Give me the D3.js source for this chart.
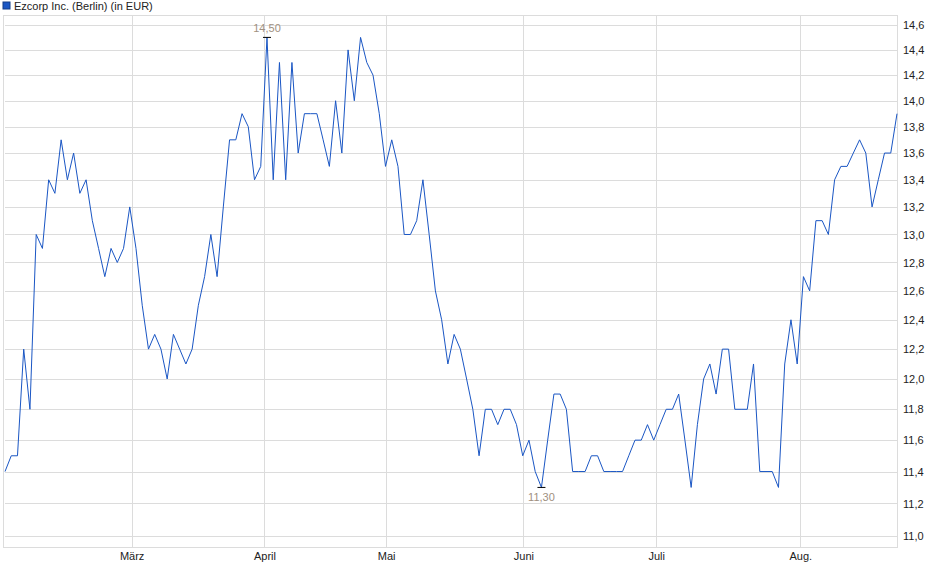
<!DOCTYPE html>
<html><head><meta charset="utf-8">
<script src="https://cdn.jsdelivr.net/npm/d3@7"></script>
<style>body{margin:0;background:#fff}text{font-family:"Liberation Sans",Arial,sans-serif}</style>
</head><body><svg id="c" width="940" height="579"></svg>
<script>
const title = 'Ezcorp Inc. (Berlin) (in EUR)'
const prices = [11.4, 11.5, 11.5, 12.2, 11.8, 13.0, 12.9, 13.4, 13.3, 13.7, 13.4, 13.6, 13.3, 13.4, 13.1, 12.9, 12.7, 12.9, 12.8, 12.9,
  13.2, 12.9, 12.5, 12.2, 12.3, 12.2, 12.0, 12.3, 12.2, 12.1, 12.2, 12.5, 12.7, 13.0, 12.7, 13.2, 13.7, 13.7, 13.9, 13.8,
  13.4, 13.5, 14.5, 13.4, 14.3, 13.4, 14.3, 13.6, 13.9, 13.9, 13.9, 13.7, 13.5, 14.0, 13.6, 14.4, 14.0, 14.5, 14.3, 14.2,
  13.9, 13.5, 13.7, 13.5, 13.0, 13.0, 13.1, 13.4, 13.0, 12.6, 12.4, 12.1, 12.3, 12.2, 12.0, 11.8, 11.5, 11.8, 11.8, 11.7,
  11.8, 11.8, 11.7, 11.5, 11.6, 11.4, 11.3, 11.6, 11.9, 11.9, 11.8, 11.4, 11.4, 11.4, 11.5, 11.5, 11.4, 11.4, 11.4, 11.4,
  11.5, 11.6, 11.6, 11.7, 11.6, 11.7, 11.8, 11.8, 11.9, 11.6, 11.3, 11.7, 12.0, 12.1, 11.9, 12.2, 12.2, 11.8, 11.8, 11.8,
  12.1, 11.4, 11.4, 11.4, 11.3, 12.1, 12.4, 12.1, 12.7, 12.6, 13.1, 13.1, 13.0, 13.4, 13.5, 13.5, 13.6, 13.7, 13.6, 13.2,
  13.4, 13.6, 13.6, 13.9]
const monthLabels = ['März', 'April', 'Mai', 'Juni', 'Juli', 'Aug.']
const monthIndex = [20.3, 41.6, 61.1, 83.1, 104.4, 127.5]
const yTicks = [11.0, 11.2, 11.4, 11.6, 11.8, 12.0, 12.2, 12.4, 12.6, 12.8, 13.0, 13.2, 13.4, 13.6, 13.8, 14.0, 14.2, 14.4, 14.6]

const svg = d3.select('#c')
const L = 5, R = 897, T = 15, B = 547
const x = d3.scaleLinear().domain([0, prices.length - 1]).range([L, R])
const y = d3.scaleLog().domain([11.0, 14.6]).range([536, 25])
const fmt = v => d3.format('.1f')(v).replace('.', ',')

// grid
svg.append('g').selectAll('line').data(yTicks).join('line')
  .attr('x1', L).attr('x2', R).attr('y1', d => Math.round(y(d)) + 0.5).attr('y2', d => Math.round(y(d)) + 0.5)
  .attr('stroke', '#dcdcdc')
svg.append('g').selectAll('line').data(monthIndex).join('line')
  .attr('x1', d => Math.round(x(d)) + 0.5).attr('x2', d => Math.round(x(d)) + 0.5).attr('y1', T).attr('y2', B)
  .attr('stroke', '#dcdcdc')
svg.append('rect').attr('x', L - 1.5).attr('y', T + 0.5).attr('width', R - L + 2).attr('height', B - T)
  .attr('fill', 'none').attr('stroke', '#dcdcdc')

// axes
const yAxis = d3.axisRight(y).tickValues(yTicks).tickFormat(fmt).tickSize(0).tickPadding(6)
svg.append('g').attr('transform', `translate(${R},0)`).call(yAxis)
  .call(g => g.select('.domain').remove())
  .selectAll('text').attr('font-size', 11).attr('fill', '#222')
const xAxis = d3.axisBottom(x).tickValues(monthIndex).tickFormat((d, i) => monthLabels[i]).tickSize(0).tickPadding(5)
svg.append('g').attr('transform', `translate(0,${B})`).call(xAxis)
  .call(g => g.select('.domain').remove())
  .selectAll('text').attr('font-size', 11).attr('fill', '#222')

// line
svg.append('path').datum(prices)
  .attr('d', d3.line().x((d, i) => x(i)).y(d => y(d)))
  .attr('fill', 'none').attr('stroke', '#1a56c4').attr('stroke-width', 1)

// hi / lo markers
const hi = d3.maxIndex(prices), lo = d3.minIndex(prices)
const mark = (i, dy) => {
  const px = x(i), py = y(prices[i])
  svg.append('line').attr('x1', px - 4).attr('x2', px + 4).attr('y1', py).attr('y2', py).attr('stroke', '#000')
  svg.append('text').attr('x', px).attr('y', py + dy).attr('text-anchor', 'middle')
    .attr('font-size', 11).attr('fill', '#a09080').text(d3.format('.2f')(prices[i]).replace('.', ','))
}
mark(hi, -5)
mark(lo, 14)

// legend
svg.append('rect').attr('x', 3).attr('y', 2).attr('width', 7).attr('height', 7).attr('fill', '#1a56c4').attr('stroke', '#123c88')
svg.append('text').attr('x', 14).attr('y', 10).attr('font-size', 11).attr('fill', '#222').text(title)
</script></body></html>
